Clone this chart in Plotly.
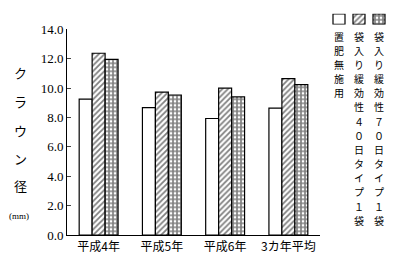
import plotly.graph_objects as go

categories = ["平成4年", "平成5年", "平成6年", "3カ年平均"]
series_names = ["置肥無施用", "袋入り緩効性４０日タイプ１袋", "袋入り緩効性７０日タイプ１袋"]
no_fert = [9.25, 8.67, 7.93, 8.63]
slow40 = [12.37, 9.73, 9.99, 10.65]
slow70 = [11.95, 9.53, 9.40, 10.24]
y_ticks = [0, 2, 4, 6, 8, 10, 12, 14]
y_title_chars = ["ク", "ラ", "ウ", "ン", "径"]
y_unit = "(mm)"

W, H = 393, 259
ML, MB = 67, 24
PW, PH = W - ML, H - MB  # plotting region (r=0, t=0)


def px(x):
    return (x - ML) / PW


def py(y):
    return 1 - y / PH


patterns = [
    dict(shape=""),
    dict(shape="/", size=4, solidity=0.45, fgcolor="black", bgcolor="white"),
    dict(shape="+", size=4, solidity=0.65, fgcolor="black", bgcolor="white"),
]
values = [no_fert, slow40, slow70]

fig = go.Figure()
for name, vals, pat in zip(series_names, values, patterns):
    fig.add_trace(go.Bar(
        x=categories, y=vals, name=name,
        marker=dict(color="white", line=dict(color="black", width=1.2), pattern=pat),
    ))

# legend swatches (patterned bars on a small auxiliary axis)
for i, (name, pat) in enumerate(zip(series_names, patterns)):
    fig.add_trace(go.Bar(
        x=[i], y=[1], xaxis="x2", yaxis="y2", width=0.6, showlegend=False,
        hoverinfo="skip",
        marker=dict(color="white", line=dict(color="black", width=1.2), pattern=pat),
    ))

fig.update_layout(
    width=W, height=H,
    margin=dict(l=ML, r=0, t=0, b=MB),
    paper_bgcolor="white", plot_bgcolor="white",
    barmode="group", bargap=0.385, bargroupgap=0,
    showlegend=False,
    font=dict(family="Noto Sans CJK JP", color="black"),
    xaxis=dict(
        domain=[0, 253 / PW],
        showline=True, linecolor="black", linewidth=1, ticks="",
        tickfont=dict(size=12, family="Noto Sans CJK JP"),
        ticklabelstandoff=1,
    ),
    yaxis=dict(
        domain=[0, 212 / PH],
        range=[0, 14], tickvals=y_ticks, ticktext=[f"{v:.1f}" for v in y_ticks],
        showline=True, linecolor="black", linewidth=1, ticks="inside", ticklen=4,
        showgrid=False, zeroline=False,
        tickfont=dict(size=13, family="Liberation Serif"),
    ),
    xaxis2=dict(domain=[px(329), px(389)], range=[-0.5, 2.5], visible=False, anchor="y2"),
    yaxis2=dict(domain=[py(18), py(7)], range=[0, 1], visible=False, anchor="x2"),
)

# vertical y-axis title
ys = [68, 97, 127, 156, 184]
for ch, yp in zip(y_title_chars, ys):
    fig.add_annotation(text=ch, xref="paper", yref="paper", x=px(20), y=py(yp),
                       showarrow=False, font=dict(size=13),
                       xanchor="center", yanchor="middle")
fig.add_annotation(text=y_unit, xref="paper", yref="paper", x=px(19), y=py(215),
                   showarrow=False, font=dict(size=9, family="Liberation Serif"),
                   xanchor="center", yanchor="middle")

# legend labels as vertical text columns, one character per annotation
leg_x = [339, 359, 379]
step = 14.6
for cx, name in zip(leg_x, series_names):
    for k, ch in enumerate(name):
        fig.add_annotation(text=ch, xref="paper", yref="paper",
                           x=px(cx), y=py(30 + k * step), showarrow=False,
                           font=dict(size=10), borderpad=0,
                           xanchor="center", yanchor="middle")

fig.write_html("out.html")
